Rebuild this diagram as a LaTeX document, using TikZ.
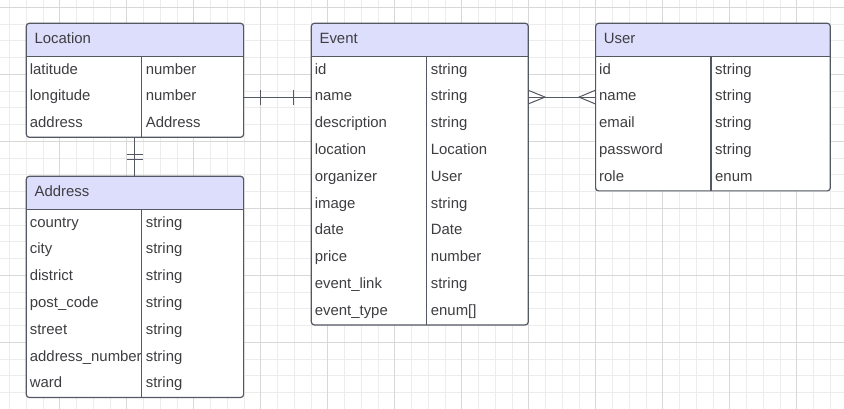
\documentclass[tikz,border=0pt]{standalone}
\usepackage{fontspec}
\setmainfont{Liberation Sans}
\definecolor{bord}{RGB}{84,88,98}
\definecolor{texte}{RGB}{62,62,66}
\definecolor{entete}{RGB}{221,221,252}
\definecolor{grillefine}{RGB}{236,236,236}
\definecolor{grilleforte}{RGB}{216,216,216}
\begin{document}
\begin{tikzpicture}[x=1pt, y=-1pt,
  every node/.style={font=\fontsize{14.9pt}{17pt}\selectfont, text=texte,
    inner sep=0pt, text height=10.7pt, text depth=3.2pt},
  table/.style={draw=bord, line width=1.2pt, fill=white, rounded corners=3pt,
    anchor=north west,
    path picture={\fill[entete, sharp corners]
      (path picture bounding box.north west)
      rectangle ([yshift=-33.6pt]path picture bounding box.north east);}},
  titre/.style={anchor=north west, minimum height=33.6pt, inner xsep=8.7pt},
  nom/.style={anchor=north west, minimum height=26.8pt, inner xsep=4pt,
    text width=107.6pt, align=left},
  type/.style={anchor=north west, minimum height=26.8pt, inner xsep=4pt,
    text width=#1, align=left},
  trait/.style={draw=bord, line width=1.2pt},
  lien/.style={draw=bord, line width=1pt}]

\useasboundingbox (0,0) rectangle (844,409);

% Grille
\foreach \x in {9.45,26.2,...,844} \draw[grillefine, line width=0.8pt] (\x,0) -- (\x,409);
\foreach \y in {7.3,24.05,...,409} \draw[grillefine, line width=0.8pt] (0,\y) -- (844,\y);
\foreach \x in {59.7,126.7,...,844} \draw[grilleforte, line width=0.8pt] (\x,0) -- (\x,409);
\foreach \y in {7.3,74.3,...,409} \draw[grilleforte, line width=0.8pt] (0,\y) -- (844,\y);

% Table Location
\node[table, minimum width=217.3pt, minimum height=114pt] (loc) at (25.7,22.7) {};
\node[titre] (loc-h) at (loc.north west) {Location};
\draw[trait] (loc-h.south -| loc.west) -- (loc-h.south -| loc.east);
\foreach \n/\t [count=\i] in {latitude/number, longitude/number, address/Address} {
  \node[nom] (loc-n\i) at ([yshift={-26.8pt*(\i-1)}]loc-h.south -| loc.west) {\n};
  \node[type=93.7pt] (loc-t\i) at (loc-n\i.north east) {\t};
}
\draw[trait] (loc-t1.north west) -- (loc-t3.south west);

% Table Address
\node[table, minimum width=217.3pt, minimum height=221.2pt] (adr) at (25.7,175.7) {};
\node[titre] (adr-h) at (adr.north west) {Address};
\draw[trait] (adr-h.south -| adr.west) -- (adr-h.south -| adr.east);
\foreach \n/\t [count=\i] in {country/string, city/string, district/string,
    post\_code/string, street/string, address\_number/string, ward/string} {
  \node[nom] (adr-n\i) at ([yshift={-26.8pt*(\i-1)}]adr-h.south -| adr.west) {\n};
  \node[type=93.7pt] (adr-t\i) at (adr-n\i.north east) {\t};
}
\draw[trait] (adr-t1.north west) -- (adr-t7.south west);

% Table Event
\node[table, minimum width=217pt, minimum height=301.6pt] (ev) at (310.7,22.7) {};
\node[titre] (ev-h) at (ev.north west) {Event};
\draw[trait] (ev-h.south -| ev.west) -- (ev-h.south -| ev.east);
\foreach \n/\t [count=\i] in {id/string, name/string, description/string,
    location/Location, organizer/User, image/string, date/Date, price/number,
    event\_link/string, event\_type/{enum[]}} {
  \node[nom] (ev-n\i) at ([yshift={-26.8pt*(\i-1)}]ev-h.south -| ev.west) {\n};
  \node[type=93.4pt] (ev-t\i) at (ev-n\i.north east) {\t};
}
\draw[trait] (ev-t1.north west) -- (ev-t10.south west);

% Table User
\node[table, minimum width=234.7pt, minimum height=167.6pt] (us) at (595,22.7) {};
\node[titre] (us-h) at (us.north west) {User};
\draw[trait] (us-h.south -| us.west) -- (us-h.south -| us.east);
\foreach \n/\t [count=\i] in {id/string, name/string, email/string,
    password/string, role/enum} {
  \node[nom] (us-n\i) at ([yshift={-26.8pt*(\i-1)}]us-h.south -| us.west) {\n};
  \node[type=111.1pt] (us-t\i) at (us-n\i.north east) {\t};
}
\draw[trait] (us-t1.north west) -- (us-t5.south west);

% Liaison Location -- Event
\draw[lien] (loc-t2.east) -- (ev-n2.west);
\draw[lien] ([xshift=17pt]loc-t2.east) ++(0,-7.5) -- ++(0,15);
\draw[lien] ([xshift=-17.4pt]ev-n2.west) ++(0,-7.5) -- ++(0,15);

% Liaison Location -- Address
\draw[lien] (loc.south) -- (adr.north);
\draw[lien] ([yshift=-16.6pt]loc.south) ++(-8.3,0) -- ++(16.6,0);
\draw[lien] ([yshift=-21.6pt]loc.south) ++(-8.3,0) -- ++(16.6,0);

% Liaison Event -- User
\draw[lien] (ev-t2.east) -- (us-n2.west);
\draw[lien] ([yshift=6.7pt]ev-t2.east) -- ([xshift=16.6pt]ev-t2.east)
  -- ([yshift=-6.7pt]ev-t2.east);
\draw[lien] ([yshift=6.7pt]us-n2.west) -- ([xshift=-16pt]us-n2.west)
  -- ([yshift=-6.7pt]us-n2.west);

\end{tikzpicture}
\end{document}
